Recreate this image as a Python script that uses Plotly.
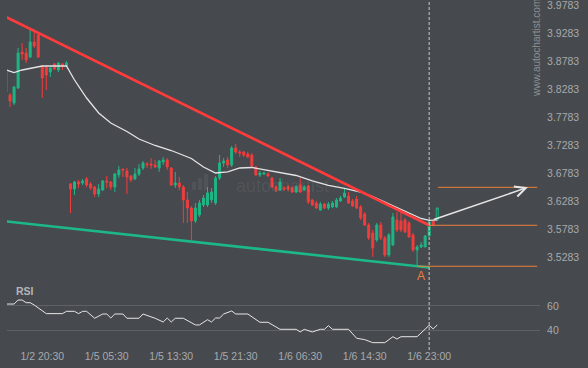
import plotly.graph_objects as go

# ---------------- data ----------------
IDX = list(range(108))
OPEN = [3.8586, 3.8176, 3.8033, 3.8301, 3.8943, 3.8926, 3.8854, 3.9122, 3.9247, 3.8676,
        3.8676, 3.8586, 3.8729, 3.8622, 3.8729, 3.8693,
        3.6586, 3.6497, 3.6622, 3.6604, 3.6676, 3.6586, 3.6533, 3.6408, 3.6479, 3.6640,
        3.6622, 3.6533, 3.6747, 3.6854, 3.6818, 3.6729, 3.6676, 3.6765, 3.6872, 3.6943,
        3.6943, 3.6926, 3.6872, 3.6979, 3.7015, 3.6872, 3.6568, 3.6604, 3.6533, 3.6301,
        3.6158, 3.5926, 3.6033, 3.6211, 3.6211, 3.6301, 3.6247, 3.6693, 3.6961, 3.7015,
        3.6926, 3.7229, 3.7158, 3.7158, 3.7122, 3.7104, 3.6890, 3.6747, 3.6765, 3.6765,
        3.6693, 3.6533, 3.6479, 3.6515, 3.6533, 3.6515, 3.6443, 3.6568, 3.6479, 3.6551,
        3.6301, 3.6247, 3.6122, 3.6229, 3.6158, 3.6176, 3.6176, 3.6283, 3.6354, 3.6372,
        3.6283, 3.6318, 3.6176, 3.6051, 3.5854, 3.5711, 3.5586, 3.5854, 3.5622, 3.5318,
        3.5497, 3.5943, 3.5926, 3.5943, 3.5890, 3.5676, 3.5408, 3.5461, 3.5461, 3.5658,
        3.5926, 3.5943]
HIGH = [3.8622, 3.8211, 3.8336, 3.9015, 3.9104, 3.9015, 3.9336, 3.9301, 3.9283, 3.8711,
        3.8693, 3.8676, 3.8747, 3.8765, 3.8747, 3.8783,
        3.6604, 3.6640, 3.6658, 3.6676, 3.6711, 3.6622, 3.6551, 3.6586, 3.6658, 3.6729,
        3.6640, 3.6783, 3.6908, 3.6854, 3.6872, 3.6747, 3.6872, 3.6943, 3.6997, 3.6979,
        3.7051, 3.7015, 3.7015, 3.7068, 3.7051, 3.6890, 3.6801, 3.6711, 3.6568, 3.6443,
        3.6193, 3.6247, 3.6301, 3.6390, 3.6533, 3.6515, 3.6729, 3.7104, 3.7051, 3.7068,
        3.7265, 3.7301, 3.7194, 3.7176, 3.7158, 3.7140, 3.6908, 3.6818, 3.6801, 3.6801,
        3.6711, 3.6568, 3.6693, 3.6551, 3.6568, 3.6551, 3.6568, 3.6693, 3.6568, 3.6568,
        3.6318, 3.6283, 3.6265, 3.6247, 3.6265, 3.6283, 3.6336, 3.6372, 3.6515, 3.6443,
        3.6318, 3.6372, 3.6211, 3.6086, 3.5890, 3.5765, 3.5890, 3.5908, 3.5658, 3.5711,
        3.6068, 3.6086, 3.6104, 3.5979, 3.5926, 3.5711, 3.5497, 3.5551, 3.5676, 3.5943,
        3.5943, 3.6158]
LOW = [3.8140, 3.7961, 3.7997, 3.8283, 3.8801, 3.8747, 3.8836, 3.9015, 3.8836, 3.8122,
       3.8265, 3.8497, 3.8622, 3.8586, 3.8622, 3.8676,
       3.6068, 3.6390, 3.6515, 3.6568, 3.6533, 3.6479, 3.6354, 3.6354, 3.6461, 3.6515,
       3.6479, 3.6443, 3.6693, 3.6711, 3.6408, 3.6622, 3.6658, 3.6729, 3.6836, 3.6872,
       3.6854, 3.6872, 3.6801, 3.6926, 3.6836, 3.6551, 3.6515, 3.6479, 3.5890, 3.5890,
       3.5586, 3.5890, 3.5997, 3.6176, 3.6176, 3.6247, 3.6211, 3.6658, 3.6890, 3.6872,
       3.6890, 3.7122, 3.7068, 3.7068, 3.7051, 3.6890, 3.6729, 3.6711, 3.6747, 3.6711,
       3.6515, 3.6443, 3.6461, 3.6461, 3.6461, 3.6426, 3.6426, 3.6426, 3.6461, 3.6229,
       3.6193, 3.6140, 3.6104, 3.6140, 3.6122, 3.6158, 3.6158, 3.6265, 3.6336, 3.6229,
       3.6176, 3.6140, 3.5943, 3.5836, 3.5586, 3.5283, 3.5551, 3.5586, 3.5283, 3.5283,
       3.5479, 3.5729, 3.5729, 3.5711, 3.5622, 3.5372, 3.5140, 3.5443, 3.5461, 3.5658,
       3.5836, 3.5943]
CLOSE = [3.8229, 3.8068, 3.8318, 3.8926, 3.8908, 3.8801, 3.9122, 3.9051, 3.8854, 3.8479,
         3.8533, 3.8658, 3.8640, 3.8747, 3.8693, 3.8747,
         3.6497, 3.6622, 3.6586, 3.6640, 3.6568, 3.6515, 3.6408, 3.6497, 3.6640, 3.6622,
         3.6533, 3.6765, 3.6836, 3.6836, 3.6711, 3.6658, 3.6765, 3.6854, 3.6961, 3.6926,
         3.6926, 3.6890, 3.6997, 3.7015, 3.6890, 3.6568, 3.6604, 3.6533, 3.6301, 3.6158,
         3.5926, 3.6158, 3.6247, 3.6336, 3.6426, 3.6443, 3.6693, 3.6961, 3.6997, 3.6926,
         3.7229, 3.7158, 3.7140, 3.7104, 3.7068, 3.6908, 3.6747, 3.6783, 3.6783, 3.6729,
         3.6533, 3.6479, 3.6622, 3.6497, 3.6497, 3.6443, 3.6533, 3.6443, 3.6533, 3.6265,
         3.6211, 3.6158, 3.6229, 3.6158, 3.6229, 3.6247, 3.6301, 3.6336, 3.6426, 3.6247,
         3.6193, 3.6158, 3.5979, 3.5854, 3.5622, 3.5443, 3.5854, 3.5622, 3.5318, 3.5676,
         3.5997, 3.5765, 3.5765, 3.5729, 3.5640, 3.5408, 3.5461, 3.5497, 3.5658, 3.5908,
         3.5854, 3.6158]

MA_IDX = [0, 2, 4, 7, 9, 15, 17, 20, 23, 26, 30, 33, 37, 41, 44, 46, 49, 52, 55, 58,
          61, 64, 68, 72, 76, 80, 84, 88, 91, 94, 97, 100, 103, 105, 107]
MA_VAL = [3.8622, 3.8577, 3.8622, 3.8663, 3.8693, 3.8693, 3.8443, 3.8122, 3.7854, 3.7676,
          3.7524, 3.7390, 3.7274, 3.7184, 3.7095, 3.7042, 3.6890, 3.6783, 3.6801, 3.6872,
          3.6881, 3.6845, 3.6792, 3.6738, 3.6640, 3.6560, 3.6509, 3.6443, 3.6359, 3.6265,
          3.6166, 3.6068, 3.5970, 3.5938, 3.5947]

RSI_IDX = [0, 2, 3, 4, 5, 6, 7, 10, 14, 15, 17, 18, 19, 20, 22, 24, 25, 26, 27, 29,
           30, 33, 34, 37, 39, 40, 41, 42, 44, 47, 48, 49, 50, 51, 52, 53, 54, 56, 57, 60,
           63, 65, 68, 72, 73, 74, 76, 78, 79, 80, 81, 85, 87, 89, 91, 94, 96, 97, 98, 102,
           105, 106, 107]
RSI_VAL = [61.6, 61.6, 64.9, 64.9, 62.7, 62.7, 60.8, 53.7, 53.7, 55.6, 55.6, 53.7, 55.6, 55.6,
           49.9, 53.4, 53.4, 50.1, 53.4, 53.4, 49.9, 49.9, 53.4, 49.9, 46.8, 50.1, 46.8, 49.9,
           49.9, 44.4, 44.4, 46.8, 48.7, 46.8, 50.1, 50.1, 53.4, 55.9, 53.4, 53.4, 46.6, 46.6,
           40.8, 40.8, 38.6, 40.8, 38.6, 40.8, 40.8, 43.8, 40.8, 40.8, 33.4, 32.3, 29.8, 29.8,
           34.7, 32.8, 34.7, 34.7, 44.1, 41.1, 44.4]

# trend lines (index, price)
RES_IDX = [0, 105]
RES_VAL = [3.9568, 3.5850]
SUP_IDX = [0, 105]
SUP_VAL = [3.5918, 3.5095]

BREAK_IDX = 105
BREAK_LEVEL = 3.5849
SUPPORT_IDX = 102
SUPPORT_LEVEL = 3.5117
TARGET_IDX = 107.2
TARGET_LEVEL = 3.6527
ARROW_FROM = (105.8, 3.5943)
ARROW_TO = (129.5, 3.6527)
LINE_END = 131.8
A_IDX = 103

PRICE_TICKS = [3.5283, 3.5783, 3.6283, 3.6783, 3.7283, 3.7783, 3.8283, 3.8783, 3.9283, 3.9783]
RSI_TICKS = [40, 60]
X_TICK_IDX = [9, 25, 41, 57, 73, 89, 105]
X_TICK_TEXT = ["1/2 20:30", "1/5 05:30", "1/5 13:30", "1/5 21:30", "1/6 06:30", "1/6 14:30", "1/6 23:00"]

# ---------------- style ----------------
BG = "#46494e"
GREEN = "#1fb584"
RED = "#f23d3d"
TXT = "#a6a9ad"
ORANGE = "#ee7f3b"
FONT = "Liberation Sans, Arial, sans-serif"

W, H = 588, 368
ML, MR, MT, MB = 7, 48, 0, 20
PW, PH = W - ML - MR, H - MT - MB


def px(x):
    return (x - ML) / PW


def py(y):
    return (H - MB - y) / PH


fig = go.Figure()

n = len(IDX) - 1
fig.add_trace(go.Candlestick(
    x=IDX[:n], open=OPEN[:n], high=HIGH[:n], low=LOW[:n], close=CLOSE[:n],
    increasing=dict(line=dict(color=GREEN, width=1), fillcolor=GREEN),
    decreasing=dict(line=dict(color=RED, width=1), fillcolor=RED),
    whiskerwidth=0, showlegend=False, hoverinfo="skip", xaxis="x", yaxis="y"))
fig.add_trace(go.Candlestick(
    x=IDX[n:], open=OPEN[n:], high=HIGH[n:], low=LOW[n:], close=CLOSE[n:],
    increasing=dict(line=dict(color=GREEN, width=1), fillcolor=BG),
    decreasing=dict(line=dict(color=RED, width=1), fillcolor=BG),
    whiskerwidth=0, showlegend=False, hoverinfo="skip", xaxis="x", yaxis="y"))

fig.add_trace(go.Scatter(x=MA_IDX, y=MA_VAL, mode="lines", line=dict(color="#e4e4e4", width=1.3),
                         showlegend=False, hoverinfo="skip", xaxis="x", yaxis="y"))
fig.add_trace(go.Scatter(x=RES_IDX, y=RES_VAL, mode="lines", line=dict(color="#ff3b3b", width=2.6),
                         showlegend=False, hoverinfo="skip", xaxis="x", yaxis="y"))
fig.add_trace(go.Scatter(x=SUP_IDX, y=SUP_VAL, mode="lines", line=dict(color="#1db888", width=2.6),
                         showlegend=False, hoverinfo="skip", xaxis="x", yaxis="y"))

for x0, lvl in [(BREAK_IDX, BREAK_LEVEL), (SUPPORT_IDX, SUPPORT_LEVEL), (TARGET_IDX, TARGET_LEVEL)]:
    fig.add_trace(go.Scatter(x=[x0, LINE_END], y=[lvl, lvl], mode="lines",
                             line=dict(color=ORANGE, width=1), showlegend=False,
                             hoverinfo="skip", xaxis="x", yaxis="y"))

fig.add_trace(go.Scatter(x=RSI_IDX, y=RSI_VAL, mode="lines", line=dict(color="#e6e6e6", width=1),
                         showlegend=False, hoverinfo="skip", xaxis="x", yaxis="y2"))

fig.add_shape(type="line", xref="x", yref="paper", x0=BREAK_IDX, x1=BREAK_IDX, y0=-2 / PH, y1=1,
              line=dict(color="#c9cbcd", width=1, dash="3px,2px"))

# faint logo bars of the watermark
for (x0, y0, x1, y1) in [(192, 182, 196, 190), (198, 178, 202, 190), (204, 174, 208, 190)]:
    fig.add_shape(type="rect", xref="paper", yref="paper", x0=px(x0), x1=px(x1), y0=py(y1), y1=py(y0),
                  line=dict(width=0), fillcolor="rgba(255,255,255,0.06)", layer="below")

annotations = [
    dict(x=ARROW_TO[0], y=ARROW_TO[1], ax=ARROW_FROM[0], ay=ARROW_FROM[1], xref="x", yref="y",
         axref="x", ayref="y", text="", showarrow=True, arrowhead=5, arrowsize=1.4,
         arrowwidth=1.5, arrowcolor="#e6e6e6", standoff=0),
    dict(x=A_IDX, y=SUPPORT_LEVEL, xref="x", yref="y", text="A", showarrow=False,
         font=dict(color=ORANGE, size=12, family=FONT), yanchor="top", yshift=-0.5),
    dict(x=px(14), y=py(291), xref="paper", yref="paper", text="<b>RSI</b>", showarrow=False,
         xanchor="left", yanchor="middle", font=dict(color="#b3b6b9", size=10.5, family=FONT)),
    dict(x=px(282), y=py(186), xref="paper", yref="paper", text="autochartist", showarrow=False,
         xanchor="center", yanchor="middle", font=dict(color="rgba(255,255,255,0.07)", size=18, family=FONT)),
    dict(x=px(536), y=py(48), xref="paper", yref="paper", text="www.autochartist.com",
         showarrow=False, textangle=-90, xanchor="center", yanchor="middle",
         font=dict(color="#8d9094", size=10, family=FONT)),
]

fig.update_layout(
    width=W, height=H,
    margin=dict(l=ML, r=MR, t=MT, b=MB),
    paper_bgcolor=BG, plot_bgcolor=BG,
    showlegend=False,
    font=dict(family=FONT, color=TXT, size=10.5),
    xaxis=dict(range=[0.248, 132.5], anchor="y2", tickvals=X_TICK_IDX, ticktext=X_TICK_TEXT,
               showgrid=False, zeroline=False, showline=False, ticks="",
               tickfont=dict(color=TXT, size=10.5, family=FONT),
               rangeslider=dict(visible=False), fixedrange=True),
    yaxis=dict(domain=[1 - 283 / PH, 1], range=[3.4818, 3.9872], side="right", anchor="x",
               tickvals=PRICE_TICKS, ticktext=[f"{v:.4f}" for v in PRICE_TICKS],
               showgrid=False, zeroline=False, showline=False, ticks="outside", ticklen=4,
               tickcolor=BG, ticklabeloverflow="allow",
               tickfont=dict(color=TXT, size=10.5, family=FONT)),
    yaxis2=dict(domain=[0, 64 / PH], range=[25.4, 78.1], side="right", anchor="x",
                tickvals=RSI_TICKS, ticktext=[str(v) for v in RSI_TICKS],
                showgrid=True, gridcolor="#5d6166", gridwidth=1, zeroline=False, showline=False,
                ticks="outside", ticklen=4, tickcolor=BG,
                tickfont=dict(color=TXT, size=10.5, family=FONT)),
    annotations=annotations,
)

fig.write_html("out.html", config=dict(displayModeBar=False),
               post_script="document.body.style.margin='0px';document.body.style.overflow='hidden';"
                           "document.body.style.background='" + BG + "';")
